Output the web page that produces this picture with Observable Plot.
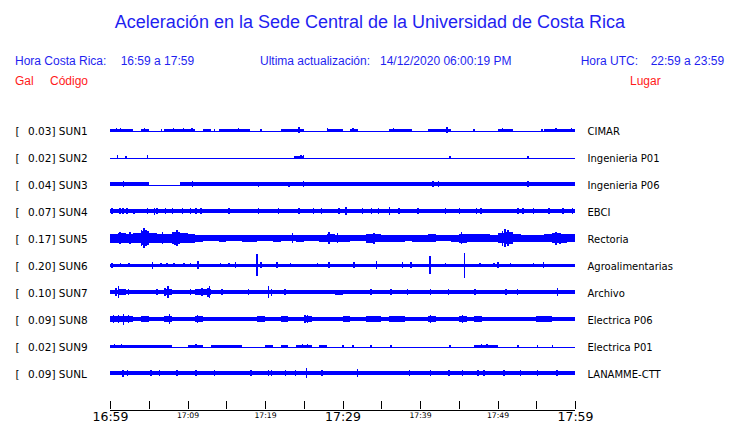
<!DOCTYPE html>
<html>
<head>
<meta charset="utf-8">
<script src="https://cdn.jsdelivr.net/npm/d3@7"></script>
<script src="https://cdn.jsdelivr.net/npm/@observablehq/plot@0.6"></script>
<style>
  body { margin: 0; background: #fff; }
  #wrap { position: relative; width: 740px; height: 423px; overflow: hidden; font-family: "Liberation Sans", Arial, sans-serif; }
  #wrap svg { position: absolute; left: 0; top: 0; }
  .h { position: absolute; white-space: pre; font-size: 12px; line-height: 12px; color: #1f1ff0; }
  .r { color: #ff1a1a; }
  .title { position: absolute; left: 0; width: 740px; top: 12.8px; text-align: center; font-size: 18px; line-height: 18px; color: #1f1ff0; }
</style>
</head>
<body>
<div id="wrap">
  <div class="title">Aceleración en la Sede Central de la Universidad de Costa Rica</div>
  <div class="h" style="left:15px;top:54.8px">Hora Costa Rica:</div>
  <div class="h" style="left:120.7px;top:54.8px">16:59 a 17:59</div>
  <div class="h" style="left:260px;top:54.8px">Ultima actualización:</div>
  <div class="h" style="left:380px;top:54.8px">14/12/2020 06:00:19 PM</div>
  <div class="h" style="left:580.7px;top:54.8px">Hora UTC:</div>
  <div class="h" style="left:650.7px;top:54.8px">22:59 a 23:59</div>
  <div class="h r" style="left:15px;top:74.8px">Gal</div>
  <div class="h r" style="left:50px;top:74.8px">Código</div>
  <div class="h r" style="left:630px;top:74.8px">Lugar</div>
</div>
<script>
// ---- data ----
const codes = ["SUN1","SUN2","SUN3","SUN4","SUN5","SUN6","SUN7","SUN8","SUN9","SUNL"];
const places = ["CIMAR","Ingenieria P01","Ingenieria P06","EBCI","Rectoria","Agroalimentarias","Archivo","Electrica P06","Electrica P01","LANAMME-CTT"];
const peakGal = [0.03,0.02,0.04,0.07,0.17,0.20,0.10,0.09,0.02,0.09];

const tickMinutes = [0,5,10,15,20,25,30,35,40,45,50,55,60];
const labelMinutes = [0,10,20,30,40,50,60];
const tickLabels = ["16:59","17:09","17:19","17:29","17:39","17:49","17:59"];
const labelMajor = [true,false,false,true,false,false,true];

// per-minute envelope (half amplitude, display units) for each trace
const envSUN1 = [0.9,1.0,0.9,0.3,1.0, 0.3,0.3,0.6,1.0,1.0, 1.0,0.3,0.6,0.3,0.9, 0.8,1.0,0.9,0.3,0.3,
                 0.3,0.3,0.8,1.0,1.1, 0.3,0.3,0.3,0.9,0.9, 0.3,0.8,0.3,0.3,0.3, 0.3,1.0,0.9,0.8,0.3,
                 0.3,0.6,0.6,1.0,0.3, 0.3,0.3,0.3,0.3,0.3, 1.0,0.9,0.3,0.3,0.3, 0.3,0.8,1.0,0.8,0.9];
const envSUN2 = [0.3,0.3,0.3,0.3,0.3,0.3,0.3,0.3,0.3,0.3,0.3,0.3,0.3,0.3,0.3,0.3,0.3,0.3,0.3,0.3,
                 0.3,0.3,0.3,0.3,0.9,0.3,0.3,0.3,0.3,0.3,0.3,0.3,0.3,0.3,0.3,0.3,0.3,0.3,0.3,0.3,
                 0.3,0.3,0.3,0.3,0.3,0.3,0.3,0.3,0.3,0.3,0.3,0.3,0.3,0.3,0.3,0.3,0.3,0.3,0.3,0.3];
const envSUN3 = [1.7,1.7,1.7,1.7,1.7, 0.3,0.3,0.3,0.3,1.7, 1.7,1.7,1.7,1.7,1.7, 1.7,1.7,1.7,1.7,1.7,
                 1.7,1.7,1.7,1.7,2.0, 1.7,1.7,1.7,1.7,1.7, 1.7,1.7,1.7,1.7,1.7, 1.7,1.7,1.7,1.7,1.7,
                 1.7,1.7,1.8,1.7,1.7, 1.7,1.7,1.7,1.7,1.7, 1.7,1.7,1.7,1.9,1.7, 1.7,1.7,1.7,1.7,1.7];
const envSUN4 = [2.2,2.2,1.8,1.7,1.7,2.0,2.3,1.7,2.0,1.9, 2.1,2.2,2.0,1.7,1.7,1.8,1.7,1.7,1.7,1.7,
                 1.7,1.8,1.7,1.7,1.8,1.7,2.0,2.1,1.7,1.8, 2.0,1.7,1.8,2.0,2.1,1.7,2.0,1.8,1.7,1.8,
                 1.7,1.7,1.7,2.0,1.8,2.0,1.7,2.1,2.0,1.7, 1.7,1.7,2.1,2.2,1.7,1.9,1.9,1.7,2.1,2.2];
const envSUN5 = [4.5,5.0,4.5,5.0,7.0,5.0,4.5,4.5,6.0,5.0, 4.5,3.5,3.0,3.0,3.5,3.0,3.0,3.5,3.5,3.0,
                 3.0,3.5,3.0,3.0,3.5,3.0,3.0,3.5,4.0,3.5, 3.5,3.0,3.0,4.5,4.0,3.5,3.5,3.5,3.0,3.5,
                 3.5,4.0,3.0,3.0,3.5,4.5,4.0,4.0,4.0,3.5, 5.0,6.0,4.0,3.5,3.5,3.5,4.0,5.0,4.5,4.0];
const envSUN6 = [1.2,1.2,1.2,1.2,1.2,1.2,1.2,1.2,1.2,1.2, 1.2,1.3,1.2,1.2,1.2,1.2,1.2,1.2,1.2,1.2,
                 1.2,1.2,1.2,1.2,1.4,1.4,1.4,1.4,1.4,1.4, 1.2,1.2,1.2,1.2,1.3,1.2,1.2,1.2,1.2,1.2,
                 1.2,1.3,1.2,1.2,1.2,1.3,1.2,1.4,1.4,1.4, 1.4,1.4,1.4,1.4,1.4,1.4,1.4,1.4,1.4,1.4];
const envSUN7 = [2.2,2.6,2.4,2.2,1.8,1.8,2.4,2.6,1.8,1.8, 2.2,2.6,2.6,1.9,2.0,1.8,1.8,2.0,2.0,1.8,
                 2.0,2.3,2.3,2.2,1.8,2.4,2.4,2.4,2.4,2.5, 2.4,2.0,1.8,2.2,2.2,2.0,2.2,2.0,2.2,1.8,
                 1.8,2.0,1.8,2.3,2.3,1.8,2.2,2.2,1.8,1.8, 2.4,2.4,2.3,2.4,1.8,2.0,1.8,2.3,2.0,2.0];
const envSUN8 = [3.0,3.2,2.8,2.4,2.6,2.4,2.2,2.6,2.4,2.2, 2.2,2.8,2.4,2.2,2.2,2.2,2.2,2.2,2.4,2.6,
                 2.2,2.2,2.6,2.2,2.2,2.8,2.2,2.2,2.4,2.2, 2.6,2.4,2.2,2.6,2.6,2.4,2.8,2.6,2.4,2.2,
                 2.4,2.6,2.2,2.2,2.4,2.6,2.2,2.6,2.4,2.2, 2.2,2.4,2.2,2.2,2.4,2.8,2.8,2.2,2.4,2.4];
const envSUN9 = [0.9,0.8,0.8,0.6,0.6,0.6,0.7,0.6,0.3,0.3, 0.7,0.8,0.3,0.6,0.8,0.8,0.7,0.3,0.3,0.3,
                 0.6,0.3,0.7,0.3,0.9,0.9,0.3,0.6,0.3,0.3, 0.3,0.3,0.3,0.3,0.3,0.3,0.3,0.3,0.3,0.3,
                 0.3,0.3,0.3,0.3,0.3,0.3,0.3,0.6,0.8,0.6, 0.3,0.3,0.3,0.3,0.3,0.3,0.3,0.3,0.3,0.3];
const envSUNL = [2.0,2.2,2.2,2.0,2.0,2.0,2.0,2.0,2.1,2.0, 2.0,2.1,2.0,2.2,2.0,2.0,2.0,2.0,2.1,2.0,
                 2.2,2.0,2.0,2.1,2.0,2.2,2.0,2.0,2.0,2.0, 2.0,2.0,2.0,2.0,2.0,2.0,2.0,2.0,2.1,2.0,
                 2.0,2.1,2.0,2.1,2.0,2.0,2.0,2.0,2.1,2.0, 2.1,2.0,2.1,2.1,2.0,2.1,2.0,2.1,2.0,2.0];

// short bursts: [minute, half amplitude]
const spkSUN1 = [[0.8,1.7],[1.3,1.6],[2.5,1.4],[4.4,1.6],[6.6,1.3],[8.1,1.6],[9.4,2.3],[10.5,1.6],[13.4,1.3],[16.5,1.7],[19.4,1.3],[24.3,2.6],[28.0,1.6],[31.3,1.6],[36.5,2.2],[38.3,1.5],[41.6,1.4],[43.4,2.6],[46.9,1.2],[50.6,1.7],[55.7,1.3],[57.5,1.7],[59.5,1.8]];
const spkSUN2 = [[0.9,1.6],[2.0,1.3],[4.8,1.8],[23.8,1.3],[24.6,2.0],[24.9,2.0],[43.8,1.4],[53.9,1.4]];
const spkSUN3 = [[1.7,2.8],[3.7,2.4],[10.6,2.8],[19.1,2.5],[23.0,2.5],[24.9,3.0],[41.6,2.8],[42.3,2.6],[53.9,3.2]];
const spkSUN4 = [[0.2,3.2],[1.2,3.0],[1.6,2.8],[2.1,2.6],[3.0,2.5],[4.8,2.6],[5.7,3.5],[6.0,3.2],[7.1,2.6],[8.0,2.8],[9.3,3.0],[10.3,2.6],[11.0,2.8],[11.7,2.6],[15.3,3.0],[19.1,2.6],[21.7,2.6],[22.8,2.4],[24.3,2.8],[26.2,2.6],[27.2,3.0],[29.5,2.6],[30.4,3.6],[32.5,2.6],[33.7,2.8],[34.6,3.2],[36.0,3.8],[37.2,3.0],[39.7,3.0],[43.2,2.8],[45.0,2.8],[47.2,2.6],[47.8,2.6],[52.6,3.0],[53.2,3.2],[54.6,2.8],[56.6,3.0],[58.4,2.6],[59.6,2.8]];
const spkSUN5 = [[1.2,6],[2.5,6],[4.0,8],[4.3,10],[4.6,8],[6.7,6],[8.3,6.5],[8.6,8],[23.5,5],[28.2,6],[29.3,5],[34.0,5.5],[45.3,6],[50.6,7.5],[50.9,9],[51.3,8],[57.5,6.5],[58.0,5.5]];
const spkSUN6 = [[0.2,2.5],[1.3,2.2],[2.4,2.2],[5.4,3.5],[6.5,2.2],[7.3,2.2],[8.2,2.0],[9.5,2.2],[10.3,2.0],[11.3,4.0],[14.2,2.0],[15.3,2.2],[16.1,3.0],[18.9,11.2],[19.4,3.2],[21.5,3.0],[23.2,2.2],[26.7,2.2],[28.2,2.6],[31.4,3.0],[34.3,4.0],[37.7,3.0],[38.8,2.6],[41.2,9.0],[43.2,1.8],[45.7,12.5],[47.7,1.8],[49.5,2.2],[50.0,3.0],[51.6,2.2],[54.6,2.2],[55.9,2.6]];
const spkSUN7 = [[1.0,6.0],[0.7,4.0],[2.3,3.0],[6.0,3.0],[7.0,4.0],[7.4,6.0],[10.3,3.2],[11.8,4.0],[12.6,4.5],[12.8,6.0],[14.4,3.2],[17.8,3.0],[20.4,6.0],[20.8,3.5],[22.5,3.2],[33.6,3.4],[36.2,3.4],[38.3,3.2],[41.3,3.0],[43.6,3.4],[47.0,3.4],[51.0,3.2],[52.5,3.0],[57.7,4.2]];
const spkSUN8 = [[0.4,4.0],[1.0,4.2],[1.7,5.5],[2.3,4.2],[7.6,4.6],[11.2,3.6],[22.2,3.4],[25.1,4.2],[25.4,3.6],[36.5,3.4],[41.3,3.8],[45.4,3.8],[55.4,3.4],[56.2,3.4]];
const spkSUN9 = [[0.5,1.6],[1.4,1.6],[2.5,1.5],[11.0,1.6],[14.5,1.5],[16.0,1.5],[24.8,2.0],[25.4,1.8],[30.0,1.5],[31.3,1.4],[33.6,1.4],[36.2,1.2],[43.8,1.3],[47.9,1.6],[48.6,1.6],[52.6,1.4],[55.1,1.3],[57.0,1.2]];
const spkSUNL = [[1.6,3.5],[2.2,3.2],[5.2,3.0],[6.3,3.0],[8.6,3.0],[11.0,3.0],[13.4,3.2],[18.1,3.0],[20.4,3.2],[20.8,3.0],[22.6,3.0],[23.9,3.0],[25.3,5.2],[27.3,3.0],[31.9,3.6],[38.6,3.0],[41.3,3.2],[43.7,3.2],[45.4,2.8],[47.4,2.8],[48.2,3.0],[50.8,3.0],[52.9,3.2],[55.1,3.0],[57.6,3.2]];

// ---- build tables ----
const envs = [envSUN1,envSUN2,envSUN3,envSUN4,envSUN5,envSUN6,envSUN7,envSUN8,envSUN9,envSUNL];
const spks = [spkSUN1,spkSUN2,spkSUN3,spkSUN4,spkSUN5,spkSUN6,spkSUN7,spkSUN8,spkSUN9,spkSUNL];
const U = 1 / 27;             // amplitude units -> row units
const yBottom = 9.5 + 22.5 * U;
const BLUE = "#0000ff";

const stations = codes.map((code, i) => ({code, place: places[i], gal: peakGal[i], i}));
const envRows = [];
envs.forEach((a, i) => {
  a.forEach((v, m) => envRows.push({code: codes[i], m, lo: i - v * U, hi: i + v * U}));
  envRows.push({code: codes[i], m: 60, lo: i - a[59] * U, hi: i + a[59] * U});
});
const spkRows = [];
spks.forEach((list, i) => list.forEach(([m, v]) => spkRows.push({code: codes[i], m, lo: i - v * U, hi: i + v * U})));
const labels = labelMinutes.map((m, k) => ({m, t: tickLabels[k], major: labelMajor[k]}));

const chart = Plot.plot({
  width: 740,
  height: 423,
  marginLeft: 110,
  marginRight: 165,
  marginTop: 116.5,
  marginBottom: 14,
  style: {fontFamily: "DejaVu Sans", background: "transparent", overflow: "visible"},
  x: {domain: [0, 60], axis: null},
  y: {domain: [-0.5, yBottom], reverse: true, axis: null},
  marks: [
    Plot.areaY(envRows, {x: "m", y1: "lo", y2: "hi", z: "code", fill: BLUE, curve: "step-after", shapeRendering: "crispEdges"}),
    Plot.ruleY(stations, {y: "i", stroke: BLUE, strokeWidth: 1, dy: 0.5, shapeRendering: "crispEdges"}),
    Plot.ruleX(spkRows, {x: "m", y1: "lo", y2: "hi", stroke: BLUE, strokeWidth: 1.5, shapeRendering: "crispEdges"}),
    Plot.text(stations, {frameAnchor: "left", y: "i", text: () => "[", dx: -95, textAnchor: "start", lineAnchor: "bottom", dy: 4, fontSize: 10.5, fill: "black"}),
    Plot.text(stations, {frameAnchor: "left", y: "i", text: d => `${d.gal.toFixed(2)}] ${d.code}`, dx: -82.5, textAnchor: "start", lineAnchor: "bottom", dy: 4, fontSize: 10.5, fill: "black"}),
    Plot.text(stations, {frameAnchor: "right", y: "i", text: "place", dx: 12, textAnchor: "start", lineAnchor: "bottom", dy: 4, fontSize: 10, fill: "black"}),
    Plot.ruleY([yBottom], {stroke: "black", dy: 0.5, shapeRendering: "crispEdges"}),
    Plot.ruleX(tickMinutes, {x: d => d, y1: yBottom, y2: yBottom - 8.5 * U, stroke: "black", shapeRendering: "crispEdges"}),
    Plot.text(labels.filter(d => d.major), {x: "m", frameAnchor: "bottom", text: "t", lineAnchor: "bottom", dy: 11.7, fontSize: 12.5, fill: "black"}),
    Plot.text(labels.filter(d => !d.major), {x: "m", frameAnchor: "bottom", text: "t", lineAnchor: "bottom", dy: 8.5, fontSize: 7.7, fill: "black"})
  ]
});
document.getElementById("wrap").appendChild(chart);
</script>
</body>
</html>
